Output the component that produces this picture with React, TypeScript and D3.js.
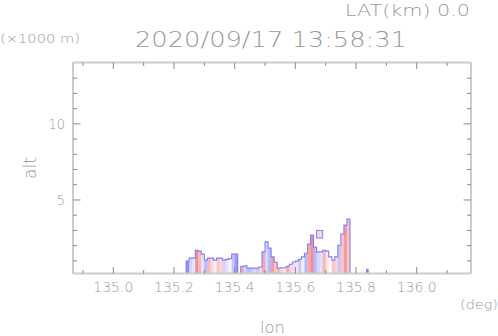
import React from "react";
import * as d3 from "d3";

// ---- data ----
const xTicksMajor = [135.0, 135.2, 135.4, 135.6, 135.8, 136.0];
const xTicksMinor = [134.9, 135.1, 135.3, 135.5, 135.7, 135.9, 136.1];
const yTicksMajor = [5, 10];
const yTicksMinor = [1, 2, 3, 4, 6, 7, 8, 9, 11, 12, 13];

// column left edges (deg), column tops (km), column velocity (normalized)
const colLon = [
  135.24, 135.25, 135.26, 135.27, 135.28, 135.29, 135.30, 135.31, 135.32, 135.33,
  135.34, 135.35, 135.36, 135.37, 135.38, 135.39, 135.40, 135.41, 135.42, 135.43,
  135.44, 135.45, 135.46, 135.47, 135.48, 135.49, 135.50, 135.51, 135.52, 135.53,
  135.54, 135.55, 135.56, 135.57, 135.58, 135.59, 135.60, 135.61, 135.62, 135.63,
  135.64, 135.65, 135.66, 135.67, 135.68, 135.69, 135.70, 135.71, 135.72, 135.73,
  135.74, 135.75, 135.76, 135.77,
];
const colTop: (number | null)[] = [
  0.98, 1.18, 1.18, 1.70, 1.64, 1.44, 1.05, 1.18, 1.18, 1.05,
  1.18, 1.18, 1.05, 1.10, 1.15, 1.44, 1.44, null, 0.65, 0.67,
  0.52, 0.52, 0.52, 0.52, 0.60, 1.59, 2.25, 1.84, 1.26, 0.91,
  0.52, 0.55, 0.55, 0.65, 0.78, 0.93, 0.98, 1.11, 1.26, 1.50,
  2.10, 2.69, 1.90, 1.59, 1.59, 1.70, 1.64, 1.26, 1.05, 1.26,
  2.03, 2.76, 3.35, 3.74,
];
const colVal = [
  -0.8, -0.3, -0.2, 0.8, 0.5, -0.2, -0.5, 0.5, 0.3, -0.1,
  0.4, 0.3, -0.3, -0.2, 0.1, -0.4, -0.7, 0, 0.6, -0.3,
  -0.5, -0.4, -0.3, -0.4, 0.3, 0.6, -0.3, -0.5, 0.7, 0.4,
  0.5, 0.3, 0.2, 0.6, 0.3, -0.2, 0.2, -0.4, -0.1, -0.5,
  0.6, 0.8, -0.5, -0.3, -0.2, 0.5, 0.2, 0.0, 0.4, 0.3,
  -0.4, 0.4, 0.7, 0.4,
];
// detached echoes
const blobLon0 = [135.67, 135.835];
const blobLon1 = [135.69, 135.84];
const blobBottom = [2.5, 0.17];
const blobTop = [3.0, 0.45];
const blobVal = [0.3, -0.9];

const STEP = 0.01;

export default function App() {
  const left = 73, right = 471, top = 62.5, bottom = 273.5;
  const x = d3.scaleLinear().domain([134.867, 136.179]).range([left, right]);
  const y = d3.scaleLinear().domain([0.17, 14.03]).range([bottom, top]);
  const color = d3
    .scaleLinear<string>()
    .domain([-1, 0, 1])
    .range(["#7070ff", "#ffffff", "#f07070"]);

  const textColor = "#999999";
  const frameColor = "#cccccc";
  const tickColor = "#8a8a8a";
  const font = "DejaVu Sans, sans-serif";
  const fw = 200;

  const segments: { lon: number; top: number }[][] = [];
  let cur: { lon: number; top: number }[] = [];
  colLon.forEach((lon, i) => {
    const t = colTop[i];
    if (t == null) {
      if (cur.length) segments.push(cur);
      cur = [];
    } else cur.push({ lon, top: t });
  });
  if (cur.length) segments.push(cur);

  const line = d3
    .line<[number, number]>()
    .x((d) => d[0])
    .y((d) => d[1]);

  const outlinePaths = segments.map((seg) => {
    const pts: [number, number][] = [];
    pts.push([x(seg[0].lon), y(0.17)]);
    seg.forEach((c) => {
      pts.push([x(c.lon), y(c.top)]);
      pts.push([x(c.lon + STEP), y(c.top)]);
    });
    pts.push([x(seg[seg.length - 1].lon + STEP), y(0.17)]);
    return line(pts) as string;
  });

  return (
    <svg
      width={498}
      height={336}
      style={{ position: "absolute", left: 0, top: 0, background: "#fff" }}
      fontFamily={font}
      fontWeight={fw}
    >
      <rect x={0} y={0} width={498} height={336} fill="#fff" />
      {colLon.map((lon, i) => {
        const t = colTop[i];
        if (t == null) return null;
        return (
          <rect
            key={"c" + i}
            x={x(lon)}
            y={y(t)}
            width={x(lon + STEP) - x(lon) + 0.3}
            height={y(0.17) - y(t)}
            fill={color(colVal[i])}
          />
        );
      })}
      {blobLon0.map((l0, i) => (
        <rect
          key={"b" + i}
          x={x(l0)}
          y={y(blobTop[i])}
          width={x(blobLon1[i]) - x(l0)}
          height={y(blobBottom[i]) - y(blobTop[i])}
          fill={color(blobVal[i])}
          stroke="#8080ff"
          strokeWidth={1}
        />
      ))}
      {outlinePaths.map((p, i) => (
        <path key={"o" + i} d={p} fill="none" stroke="#8080ff" strokeWidth={1.1} />
      ))}

      <line x1={left} y1={top} x2={right} y2={top} stroke={frameColor} strokeWidth={2} />
      <line x1={left} y1={bottom} x2={right} y2={bottom} stroke={frameColor} strokeWidth={2} />
      <line x1={right} y1={top} x2={right} y2={bottom} stroke={frameColor} strokeWidth={2} />
      <line x1={left} y1={top} x2={left} y2={bottom} stroke="#a8a8a8" strokeWidth={1.2} />

      {xTicksMajor.map((v) => (
        <g key={"xM" + v}>
          <line x1={x(v)} x2={x(v)} y1={bottom} y2={bottom - 6.5} stroke={tickColor} />
          <line x1={x(v)} x2={x(v)} y1={top} y2={top + 6.5} stroke={tickColor} />
          <text
            x={x(v)}
            y={292}
            textAnchor="middle"
            fontSize={14}
            fill={textColor}
            textLength={40}
            lengthAdjust="spacingAndGlyphs"
          >
            {d3.format(".1f")(v)}
          </text>
        </g>
      ))}
      {xTicksMinor.map((v) => (
        <g key={"xm" + v}>
          <line x1={x(v)} x2={x(v)} y1={bottom} y2={bottom - 3.5} stroke={tickColor} />
          <line x1={x(v)} x2={x(v)} y1={top} y2={top + 3.5} stroke={tickColor} />
        </g>
      ))}
      {yTicksMajor.map((v) => (
        <g key={"yM" + v}>
          <line x1={left} x2={left + 7.5} y1={y(v)} y2={y(v)} stroke={tickColor} />
          <line x1={right} x2={right - 7.5} y1={y(v)} y2={y(v)} stroke={tickColor} />
          <text
            x={65}
            y={y(v) + 5}
            textAnchor="end"
            fontSize={14}
            fill={textColor}
            textLength={String(v).length * 8.3}
            lengthAdjust="spacingAndGlyphs"
          >
            {v}
          </text>
        </g>
      ))}
      {yTicksMinor.map((v) => (
        <g key={"ym" + v}>
          <line x1={left} x2={left + 4} y1={y(v)} y2={y(v)} stroke={tickColor} />
          <line x1={right} x2={right - 4} y1={y(v)} y2={y(v)} stroke={tickColor} />
        </g>
      ))}

      <text x={345} y={16} fontSize={16} fill={textColor} textLength={125} lengthAdjust="spacingAndGlyphs">
        LAT(km) 0.0
      </text>
      <text x={135} y={47} fontSize={22} fill={textColor} textLength={272} lengthAdjust="spacingAndGlyphs">
        2020/09/17 13:58:31
      </text>
      <text x={0} y={43} fontSize={12.5} fill={textColor} textLength={80} lengthAdjust="spacingAndGlyphs">
        (×1000 m)
      </text>
      <text
        transform="translate(36,168) rotate(-90)"
        textAnchor="middle"
        fontSize={18}
        fill={textColor}
        textLength={22}
        lengthAdjust="spacingAndGlyphs"
      >
        alt
      </text>
      <text x={460} y={309} fontSize={13} fill={textColor} textLength={38} lengthAdjust="spacingAndGlyphs">
        (deg)
      </text>
      <text x={260} y={333} fontSize={16} fill={textColor} textLength={25} lengthAdjust="spacingAndGlyphs">
        lon
      </text>
    </svg>
  );
}
